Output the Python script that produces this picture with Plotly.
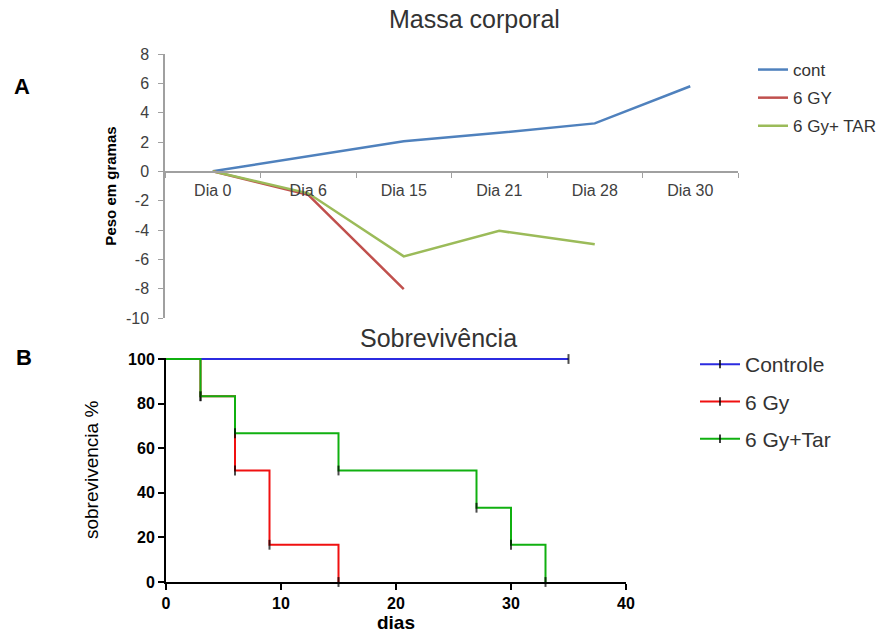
import plotly.graph_objects as go

# ---- Panel A: Massa corporal ----
dias = ["Dia 0", "Dia 6", "Dia 15", "Dia 21", "Dia 28", "Dia 30"]
cont = [0, 1.05, 2.05, 2.63, 3.27, 5.8]
gy6 = [0, -1.6, -8.03, None, None, None]
gy6_tar = [0, -1.5, -5.8, -4.06, -4.97, None]
peso_ticks = [8, 6, 4, 2, 0, -2, -4, -6, -8, -10]
peso_labels = ["8", "6", "4", "2", "0", "-2", "-4", "-6", "-8", "-10"]

# ---- Panel B: Sobrevivência ----
ctrl_days = [0, 35]
ctrl_surv = [100, 100]
gy_days = [0, 3, 6, 9, 15]
gy_surv = [100, 83.3, 50, 16.7, 0]
tar_days = [0, 3, 6, 15, 27, 30, 33]
tar_surv = [100, 83.3, 66.7, 50, 33.3, 16.7, 0]

W, H = 883, 637
FONT = "Arial, Liberation Sans, sans-serif"

def px_x(p):
    return p / W

def px_y(p):
    return 1 - p / H

fig = go.Figure()

# Panel A traces
for nm, vals, c in [("cont", cont, "#4F81BD"), ("6 GY", gy6, "#C0504D"), ("6 Gy+ TAR", gy6_tar, "#9BBB59")]:
    fig.add_trace(go.Scatter(x=dias, y=vals, name=nm, mode="lines", legendgroup="a_" + nm,
                             line=dict(color=c, width=2.5), xaxis="x", yaxis="y", legend="legend"))

# Panel B traces (draw order: red, blue, green)
blue_c, red_c, green_c = "#2B2BE0", "#F01010", "#10B010"

def sizes(n):
    return [0] + [7] * (n - 1)

for days, surv, c in [(gy_days, gy_surv, red_c), (ctrl_days, ctrl_surv, blue_c), (tar_days, tar_surv, green_c)]:
    fig.add_trace(go.Scatter(x=days, y=surv, mode="lines+markers", line_shape="hv",
                             line=dict(color=c, width=2),
                             marker=dict(symbol="line-ns", size=sizes(len(days)), line=dict(width=2, color="black")),
                             showlegend=False, cliponaxis=False, xaxis="x2", yaxis="y2"))

# legend entries for panel B
for nm, c in [("Controle", blue_c), ("6 Gy", red_c), ("6 Gy+Tar", green_c)]:
    fig.add_trace(go.Scatter(x=[None], y=[None], name=nm, mode="lines+markers",
                             line=dict(color=c, width=2),
                             marker=dict(symbol="line-ns", size=6, line=dict(width=1.5, color="black")),
                             legendgroup=nm, xaxis="x2", yaxis="y2", legend="legend2"))

Y2_TOP = 100.6

def label(text, x, y, size, color):
    return dict(text=text, x=px_x(x), y=px_y(y), xref="paper", yref="paper",
                xanchor="center", yanchor="middle", showarrow=False,
                font=dict(size=size, color=color))

fig.update_layout(
    width=W, height=H,
    margin=dict(l=0, r=0, t=0, b=0),
    paper_bgcolor="white", plot_bgcolor="white",
    font=dict(family=FONT, color="#404040"),
    xaxis=dict(domain=[px_x(165), px_x(738)], anchor="free", position=px_y(172), automargin=False,
               type="category", range=[-0.5, 5.5], showline=True, linecolor="#A0A0A0", linewidth=1.5,
               ticks="outside", tickson="boundaries", ticklen=5, tickcolor="#A0A0A0",
               showgrid=False, zeroline=False, tickfont=dict(size=16, color="#404040"),
               ticklabelstandoff=4),
    yaxis=dict(domain=[px_y(318), px_y(54)], anchor="x", range=[-10, 8], automargin=False,
               tickvals=peso_ticks, ticktext=peso_labels,
               showline=True, linecolor="#A0A0A0", linewidth=1.5, ticks="outside", ticklen=5,
               tickcolor="#A0A0A0", showgrid=False, zeroline=False,
               tickfont=dict(size=16, color="#404040"), ticklabelstandoff=6,
               title=dict(text="<b>Peso em gramas</b>", font=dict(size=15, color="black"), standoff=6)),
    xaxis2=dict(domain=[px_x(166), px_x(626)], anchor="y2", range=[0, 40], dtick=10, automargin=False,
                showline=True, linecolor="black", linewidth=2, ticks="outside", ticklen=6,
                tickwidth=2, tickcolor="black", showgrid=False, zeroline=False,
                tickfont=dict(size=16, color="black", weight="bold"),
                title=dict(text="<b>dias</b>", font=dict(size=19, color="black"), standoff=2)),
    yaxis2=dict(domain=[px_y(582), px_y(582 - Y2_TOP * 2.23)], anchor="x2", range=[0, Y2_TOP],
                tickvals=[0, 20, 40, 60, 80, 100], automargin=False,
                showline=True, linecolor="black", linewidth=2, ticks="outside", ticklen=6,
                tickwidth=2, tickcolor="black", showgrid=False, zeroline=False,
                tickfont=dict(size=16, color="black", weight="bold"),
                title=dict(text="sobrevivencia %", font=dict(size=19, color="black"), standoff=24)),
    legend=dict(x=px_x(753), y=px_y(52), xanchor="left", yanchor="top",
                font=dict(size=17, color="#333333"), bgcolor="rgba(0,0,0,0)", tracegroupgap=3),
    legend2=dict(x=px_x(695), y=px_y(344), xanchor="left", yanchor="top", itemwidth=40,
                 font=dict(size=21, color="#333333"), bgcolor="rgba(0,0,0,0)", tracegroupgap=7),
    annotations=[
        label("Massa corporal", 474, 19, 25, "#333333"),
        label("Sobrevivência", 438, 338, 25, "#333333"),
        label("<b>A</b>", 22, 86, 22, "black"),
        label("<b>B</b>", 24, 357, 22, "black"),
    ],
)

fig.write_html("out.html", config={"displayModeBar": False},
               post_script="document.body.style.margin='0';")
